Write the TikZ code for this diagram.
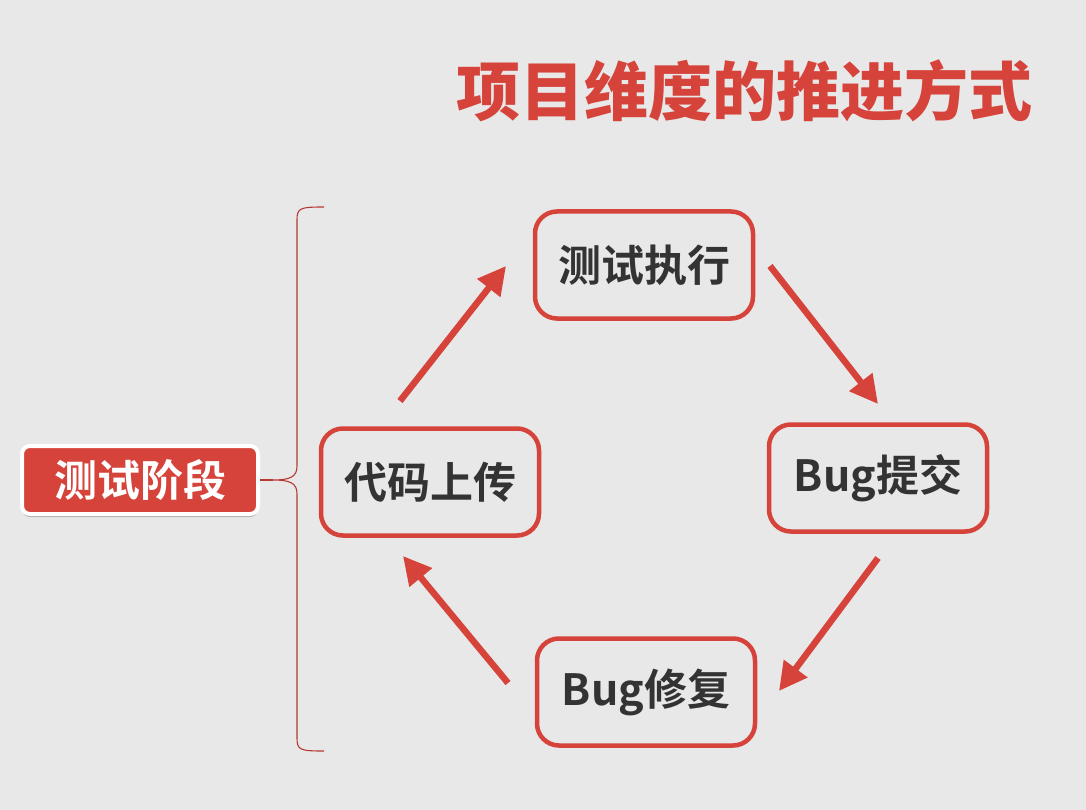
\documentclass[tikz,border=0pt]{standalone}
\usepackage{fontspec}
\newfontfamily\cjkb{Noto Sans CJK SC Bold}
\newfontfamily\cjkh{Noto Sans CJK SC Black}
\usetikzlibrary{arrows.meta,shadows}
\definecolor{bg}{HTML}{E8E8E8}
\definecolor{pptred}{HTML}{D5433A}
\definecolor{txt}{HTML}{333333}
\tikzset{
  stepbox/.style={draw=pptred, line width=4.5pt, rounded corners=22pt, fill=bg,
    minimum width=218pt, minimum height=107pt, text=txt,
    font=\cjkb\fontsize{43}{47}\selectfont,
    drop shadow={shadow xshift=0pt, shadow yshift=-2pt, opacity=0.18, fill=black}},
  stagebox/.style={draw=white, line width=4pt, rounded corners=8pt, fill=pptred,
    minimum width=236pt, minimum height=68pt, text=white,
    font=\cjkb\fontsize{43}{47}\selectfont,
    drop shadow={shadow xshift=0pt, shadow yshift=-3pt, opacity=0.25, fill=black}},
  flow/.style={draw=pptred, line width=6.5pt, -{Triangle[length=28pt,width=28pt]}},
  bracestyle/.style={draw=pptred!85!black, line width=1.1pt},
}
\begin{document}
\begin{tikzpicture}[x=1pt,y=-1pt]
\fill[bg] (0,0) rectangle (1086,810);
\useasboundingbox (0,0) rectangle (1086,810);

\node[text=pptred, font=\cjkh\fontsize{64}{70}\selectfont] (title) at (744,91) {项目维度的推进方式};

\node[stepbox] (exec) at (644,265) {测试执行};
\node[stepbox] (submit) at (878,478) {Bug提交};
\node[stepbox] (fix) at (646,692) {Bug修复};
\node[stepbox] (upload) at (430,482) {代码上传};

\node[stagebox] (stage) at (140,480) {测试阶段};

\coordinate (a1s) at (400,401); \coordinate (a1e) at (506,266);
\coordinate (a2s) at (770,266); \coordinate (a2e) at (878,404);
\coordinate (a3s) at (878,558); \coordinate (a3e) at (779,691);
\coordinate (a4s) at (508,683); \coordinate (a4e) at (403,556);
\draw[flow] (a1s) -- (a1e);
\draw[flow] (a2s) -- (a2e);
\draw[flow] (a3s) -- (a3e);
\draw[flow] (a4s) -- (a4e);

\coordinate (btop) at (324,207);
\coordinate (bbot) at (324,751);
\coordinate (tip) at (273,480);
\draw[bracestyle] (btop) .. controls (300,207) and (297,208) .. (297,220)
  -- (297,466) .. controls (297,477) and (290,480) .. (tip)
  .. controls (290,480) and (297,483) .. (297,494)
  -- (297,738) .. controls (297,750) and (300,751) .. (bbot);
\draw[bracestyle] (stage.east) -- (tip);
\end{tikzpicture}
\end{document}
